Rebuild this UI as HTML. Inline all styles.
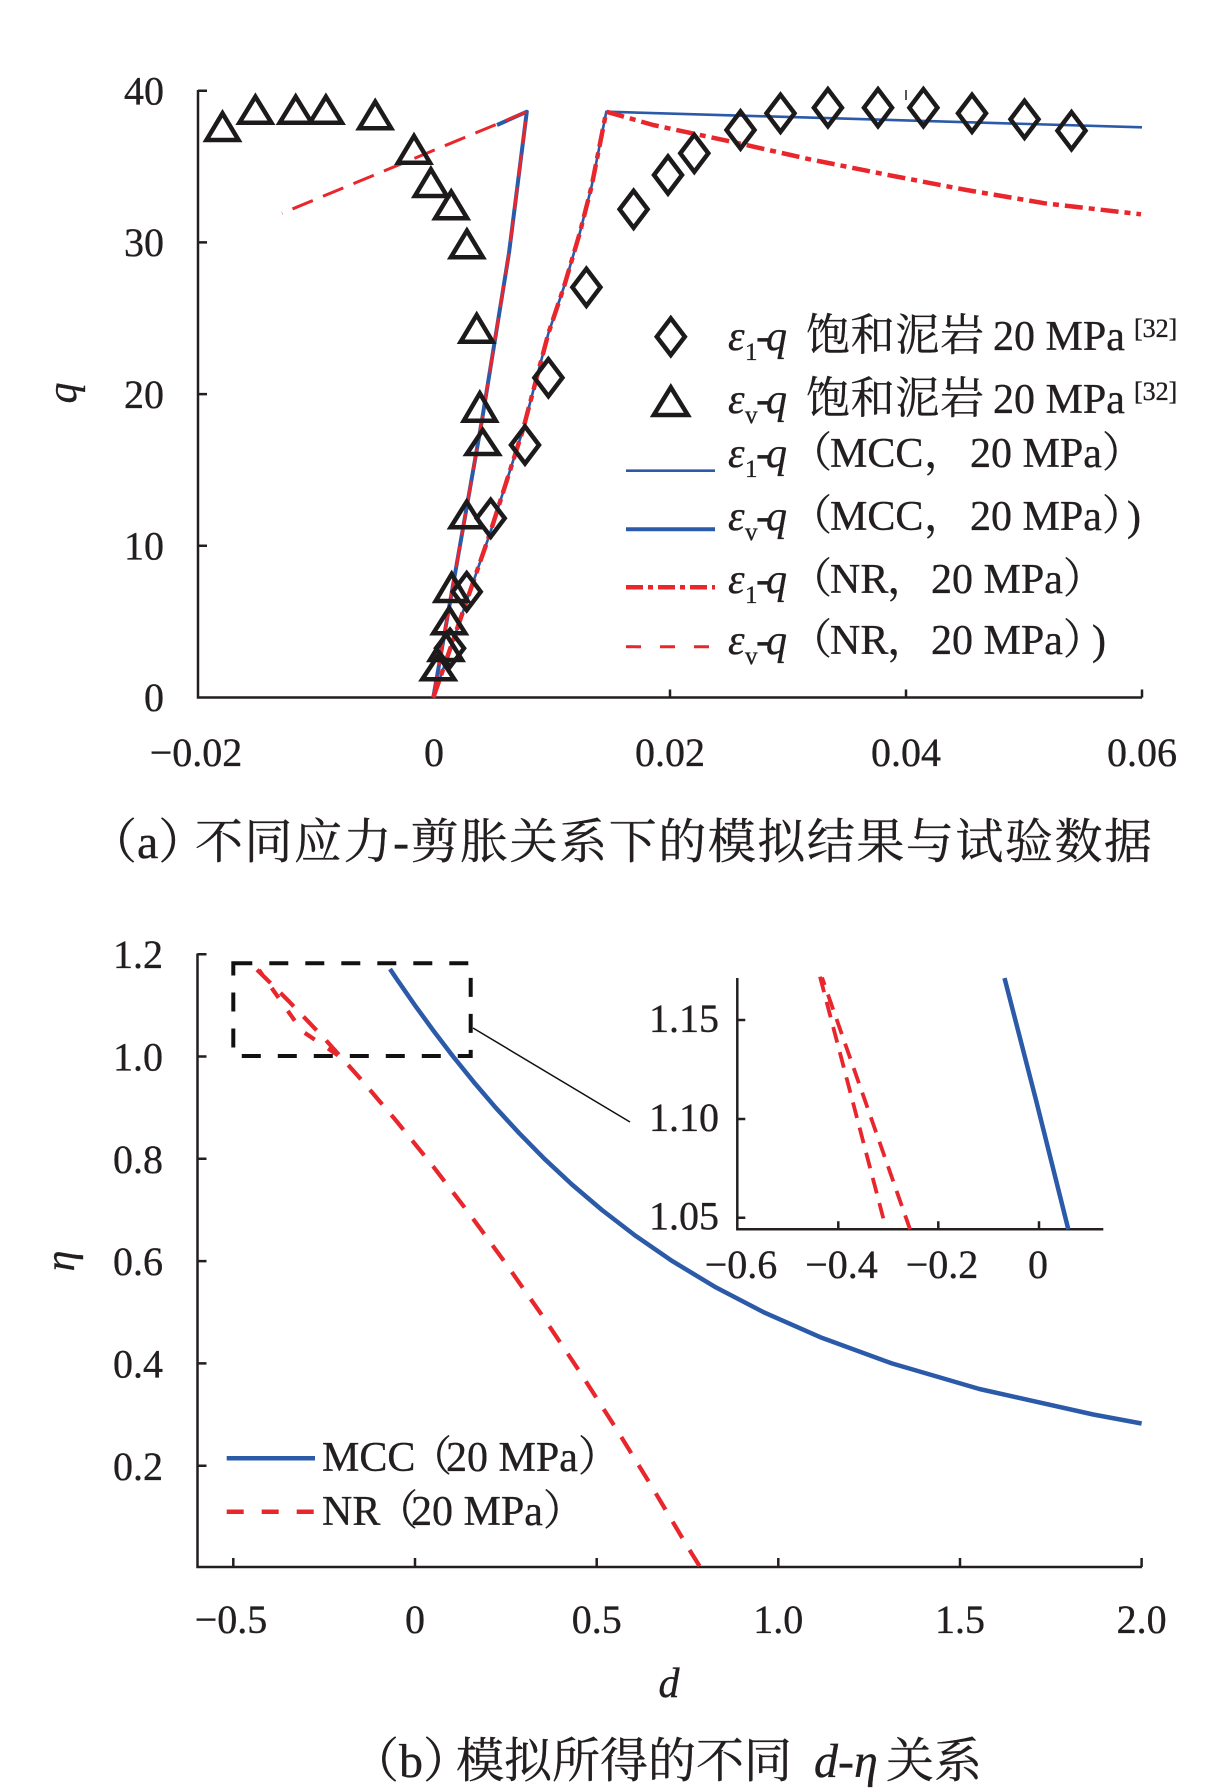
<!DOCTYPE html>
<html><head><meta charset="utf-8">
<style>
html,body{margin:0;padding:0;background:#fff}
svg{display:block}
text{font-family:"Liberation Serif","Noto Serif CJK SC",serif;fill:#231f20;stroke:#231f20;stroke-width:0.35}
.it{font-style:italic}
</style></head>
<body>
<svg width="1228" height="1790" viewBox="0 0 1228 1790" xmlns="http://www.w3.org/2000/svg">
<rect width="1228" height="1790" fill="#fff"/>

<!-- ================= CHART (a) ================= -->
<g stroke="#231f20" stroke-width="2.5" fill="none">
  <path d="M198 90 V697.5 H1142"/>
  <path d="M198 90.7 h9 M198 242.4 h9 M198 394.1 h9 M198 545.8 h9"/>
  <path d="M434 697.5 v-8 M670 697.5 v-8 M906 697.5 v-8 M1142 697.5 v-8"/>
  <path d="M906 90 v10" stroke-width="1.5"/>
</g>
<g font-size="40" text-anchor="end">
  <text x="164" y="104.5">40</text>
  <text x="164" y="256">30</text>
  <text x="164" y="408">20</text>
  <text x="164" y="559.5">10</text>
  <text x="164" y="711">0</text>
</g>
<g font-size="40" text-anchor="middle">
  <text x="196" y="766">−0.02</text>
  <text x="434" y="766">0</text>
  <text x="670" y="766">0.02</text>
  <text x="906" y="766">0.04</text>
  <text x="1142" y="766">0.06</text>
</g>
<text class="it" font-size="42" text-anchor="middle" transform="translate(76,393) rotate(-90)">q</text>

<!-- model lines (a) -->
<g fill="none" stroke-linejoin="round">
  <path d="M433.3 697.7 L490 533.3 L522.9 430 L548.4 333.3 L564 286.7 L579.7 233.3 L591.5 186.7 L606.3 111.7 L1142 127.3" stroke="#2b5aa8" stroke-width="2.6"/>
  <path d="M433.3 697.5 L482 420 L509 253 L526.8 111.7 L497 125" stroke="#2b5aa8" stroke-width="4"/>
  <path d="M433.3 697.7 L490 533.3 L522.9 430 L548.4 333.3 L564 286.7 L579.7 233.3 L591.5 186.7 L606.3 111.7 L653.2 125 L731.5 141.7 L809.8 159.3 L888.2 175 L966.5 190 L1044.8 203.3 L1141 214.3" stroke="#e8262c" stroke-width="4.5" stroke-dasharray="18 6 6 6"/>
  <path d="M433.3 697.5 L482 420 L509 253 L526.8 111.7 L282 213.3" stroke="#e8262c" stroke-width="3" stroke-dasharray="22 11"/>
</g>

<!-- triangles (a) -->
<g fill="none" stroke="#1c1a1b" stroke-width="4.5" stroke-linejoin="miter">
  <path d="M222.5 113.3 L238.5 140 L206.5 140 Z"/>
  <path d="M255.4 96.7 L271.4 122.7 L239.4 122.7 Z"/>
  <path d="M295.7 96.7 L311.7 122.7 L279.7 122.7 Z"/>
  <path d="M325.9 96.7 L341.9 122.7 L309.9 122.7 Z"/>
  <path d="M375.2 101.7 L391.2 128.3 L359.2 128.3 Z"/>
  <path d="M414 136 L430 162.7 L398 162.7 Z"/>
  <path d="M430.9 169.3 L446.9 196 L414.9 196 Z"/>
  <path d="M451.2 191.7 L467.2 218.3 L435.2 218.3 Z"/>
  <path d="M466.9 230.7 L482.9 257.3 L450.9 257.3 Z"/>
  <path d="M476.7 315 L492.7 341.7 L460.7 341.7 Z"/>
  <path d="M479.8 393.3 L495.8 420.7 L463.8 420.7 Z"/>
  <path d="M482.7 430 L498.7 454 L466.7 454 Z"/>
  <path d="M466.7 501.7 L482.7 527.3 L450.7 527.3 Z"/>
  <path d="M451.7 574 L467.7 601 L435.7 601 Z"/>
  <path d="M449.3 608 L465.3 633.3 L433.3 633.3 Z"/>
  <path d="M446 634 L462 660 L430 660 Z"/>
  <path d="M438.3 655 L454.3 679.3 L422.3 679.3 Z"/>
</g>
<!-- diamonds (a) -->
<g fill="none" stroke="#1c1a1b" stroke-width="4.5" stroke-linejoin="miter">
  <path d="M525 426.5 L539 445 L525 463.5 L511 445 Z"/>
  <path d="M490.7 499.8 L504.7 518.3 L490.7 536.8 L476.7 518.3 Z"/>
  <path d="M466.7 573.2 L480.7 591.7 L466.7 610.2 L452.7 591.7 Z"/>
  <path d="M450 629.8 L464 648.3 L450 666.8 L436 648.3 Z"/>
  <path d="M548.4 359.2 L562.4 377.7 L548.4 396.2 L534.4 377.7 Z"/>
  <path d="M586.4 268.8 L600.4 287.3 L586.4 305.8 L572.4 287.3 Z"/>
  <path d="M633.6 190.8 L647.6 209.3 L633.6 227.8 L619.6 209.3 Z"/>
  <path d="M668 156.5 L682 175 L668 193.5 L654 175 Z"/>
  <path d="M694.3 134.8 L708.3 153.3 L694.3 171.8 L680.3 153.3 Z"/>
  <path d="M740.5 111.5 L754.5 130 L740.5 148.5 L726.5 130 Z"/>
  <path d="M780.5 94.8 L794.5 113.3 L780.5 131.8 L766.5 113.3 Z"/>
  <path d="M827.9 89.2 L841.9 107.7 L827.9 126.2 L813.9 107.7 Z"/>
  <path d="M878 89.2 L892 107.7 L878 126.2 L864 107.7 Z"/>
  <path d="M923.4 89.2 L937.4 107.7 L923.4 126.2 L909.4 107.7 Z"/>
  <path d="M972 94.8 L986 113.3 L972 131.8 L958 113.3 Z"/>
  <path d="M1024.5 100.8 L1038.5 119.3 L1024.5 137.8 L1010.5 119.3 Z"/>
  <path d="M1071.5 112.2 L1085.5 130.7 L1071.5 149.2 L1057.5 130.7 Z"/>
</g>

<!-- legend (a) -->
<g fill="none" stroke="#1c1a1b" stroke-width="4.5">
  <path d="M670.8 318.3 L684.8 336.7 L670.8 355 L656.8 336.7 Z"/>
  <path d="M670.8 387.3 L687.8 415 L653.8 415 Z"/>
</g>
<path d="M626 470.7 H715" stroke="#2b5aa8" stroke-width="2.6"/>
<path d="M626 529.3 H715" stroke="#2b5aa8" stroke-width="4"/>
<path d="M626 587.3 H715" stroke="#e8262c" stroke-width="4.5" stroke-dasharray="17 5 5 5"/>
<path d="M626 646.7 H715" stroke="#e8262c" stroke-width="3" stroke-dasharray="15 19"/>

<g font-size="42">
  <text y="350"><tspan x="728" class="it">ε</tspan><tspan x="745" font-size="25" dy="10">1</tspan><tspan x="756" dy="-10">-</tspan><tspan x="766" class="it">q</tspan></text>
  <text x="806" y="350" font-size="44" textLength="178" lengthAdjust="spacing">饱和泥岩</text>
  <text x="993" y="350">20 MPa</text>
  <text x="1134" y="337" font-size="26">[32]</text>
  <text y="413"><tspan x="728" class="it">ε</tspan><tspan x="745" font-size="25" dy="10">v</tspan><tspan x="756" dy="-10">-</tspan><tspan x="766" class="it">q</tspan></text>
  <text x="806" y="413" font-size="44" textLength="178" lengthAdjust="spacing">饱和泥岩</text>
  <text x="993" y="413">20 MPa</text>
  <text x="1134" y="400" font-size="26">[32]</text>
  <text y="467"><tspan x="728" class="it">ε</tspan><tspan x="745" font-size="25" dy="10">1</tspan><tspan x="756" dy="-10">-</tspan><tspan x="766" class="it">q</tspan></text>
  <text x="790" y="467">（</text><text x="830" y="467">MCC</text><text x="924" y="467">，</text>
  <text x="970" y="467">20 MPa）</text>
  <text y="530"><tspan x="728" class="it">ε</tspan><tspan x="745" font-size="25" dy="10">v</tspan><tspan x="756" dy="-10">-</tspan><tspan x="766" class="it">q</tspan></text>
  <text x="790" y="530">（</text><text x="830" y="530">MCC</text><text x="924" y="530">，</text>
  <text x="970" y="530">20 MPa）</text><text x="1127" y="530">)</text>
  <text y="593"><tspan x="728" class="it">ε</tspan><tspan x="745" font-size="25" dy="10">1</tspan><tspan x="756" dy="-10">-</tspan><tspan x="766" class="it">q</tspan></text>
  <text x="790" y="593">（</text><text x="830" y="593">NR</text><text x="887" y="593">，</text>
  <text x="931" y="593">20 MPa）</text>
  <text y="654"><tspan x="728" class="it">ε</tspan><tspan x="745" font-size="25" dy="10">v</tspan><tspan x="756" dy="-10">-</tspan><tspan x="766" class="it">q</tspan></text>
  <text x="790" y="654">（</text><text x="830" y="654">NR</text><text x="887" y="654">，</text>
  <text x="931" y="654">20 MPa）</text><text x="1092" y="654">)</text>
</g>

<!-- caption (a) -->
<text x="89" y="858" font-size="48">（a）</text>
<text x="195" y="858" font-size="48" textLength="957" lengthAdjust="spacing">不同应力-剪胀关系下的模拟结果与试验数据</text>

<!-- ================= CHART (b) ================= -->
<g stroke="#231f20" stroke-width="2.5" fill="none">
  <path d="M197.5 953.5 V1567 H1142"/>
  <path d="M197.5 954.2 h9 M197.5 1056.5 h9 M197.5 1158.8 h9 M197.5 1261.1 h9 M197.5 1363.4 h9 M197.5 1465.7 h9"/>
  <path d="M233.3 1567 v-9 M415 1567 v-9 M596.7 1567 v-9 M778.3 1567 v-9 M960 1567 v-9 M1141.6 1567 v-9"/>
</g>
<g font-size="40" text-anchor="end">
  <text x="163" y="968">1.2</text>
  <text x="163" y="1070.5">1.0</text>
  <text x="163" y="1173">0.8</text>
  <text x="163" y="1275">0.6</text>
  <text x="163" y="1377.5">0.4</text>
  <text x="163" y="1480">0.2</text>
</g>
<g font-size="40" text-anchor="middle">
  <text x="231" y="1633">−0.5</text>
  <text x="415" y="1633">0</text>
  <text x="596.7" y="1633">0.5</text>
  <text x="778.3" y="1633">1.0</text>
  <text x="960" y="1633">1.5</text>
  <text x="1141.6" y="1633">2.0</text>
</g>
<text class="it" font-size="42" text-anchor="middle" x="669" y="1697">d</text>
<text class="it" font-size="42" text-anchor="middle" transform="translate(74,1261) rotate(-90)">η</text>

<rect x="233.3" y="963.3" width="237.4" height="92.7" fill="none" stroke="#111" stroke-width="4" stroke-dasharray="19 17"/>
<path d="M473 1028 L630 1122" stroke="#111" stroke-width="1.5" fill="none"/>

<g fill="none" stroke-linejoin="round">
  <path d="M390 969 L397.2 979.8 L415 1005.4 L433.6 1030.9 L453.1 1056.5 L473.8 1082.1 L495.7 1107.7 L519.2 1133.2 L544.4 1158.8 L571.8 1184.4 L601.8 1209.9 L635.1 1235.5 L672.3 1261.1 L714.7 1286.7 L763.8 1312.3 L821.7 1337.8 L891.8 1363.4 L979.4 1389 L1093.2 1414.5 L1141.6 1423.5" stroke="#2b5aa8" stroke-width="4.5"/>
  <path d="M257 969.7 L287.8 1000.2 L324.2 1038.3 L360.5 1078.8 L396.8 1121.5 L433.2 1166.5 L469.5 1213.9 L505.8 1263.5 L542.2 1315.5 L578.5 1369.8 L614.8 1426.5 L651.1 1485.4 L687.5 1546.7 L699.5 1566" stroke="#e8262c" stroke-width="4.2" stroke-dasharray="19 14"/>
  <path d="M259 970 L302 1031 L342 1058" stroke="#e8262c" stroke-width="4.2" stroke-dasharray="12 16" stroke-dashoffset="6"/>
</g>

<path d="M226.7 1458.3 H315" stroke="#2b5aa8" stroke-width="4.5"/>
<path d="M226.7 1511.7 H315" stroke="#e8262c" stroke-width="4.5" stroke-dasharray="17 18"/>
<g font-size="42">
  <text x="322" y="1471">MCC</text><text x="410" y="1471">（</text><text x="446" y="1471">20 MPa）</text>
  <text x="322" y="1525">NR</text><text x="376" y="1525">（</text><text x="411" y="1525">20 MPa）</text>
</g>

<!-- inset -->
<rect x="738" y="976" width="366" height="252" fill="#fff"/>
<g stroke="#231f20" stroke-width="2.5" fill="none">
  <path d="M737.3 978 V1229.3 H1103.3"/>
  <path d="M737.3 1020 h8 M737.3 1119 h8 M737.3 1217.7 h8"/>
  <path d="M838.3 1229.3 v-8 M938.3 1229.3 v-8 M1039 1229.3 v-8"/>
</g>
<g font-size="40" text-anchor="end">
  <text x="719" y="1032">1.15</text>
  <text x="719" y="1131">1.10</text>
  <text x="719" y="1229.5">1.05</text>
</g>
<g font-size="40" text-anchor="middle">
  <text x="741" y="1278">−0.6</text>
  <text x="841.5" y="1278">−0.4</text>
  <text x="942" y="1278">−0.2</text>
  <text x="1038" y="1278">0</text>
</g>
<g fill="none">
  <path d="M820 976.7 L883.3 1218.3" stroke="#e8262c" stroke-width="3.8" stroke-dasharray="16 10"/>
  <path d="M822 977.5 L910 1229.3" stroke="#e8262c" stroke-width="3.8" stroke-dasharray="16 10" stroke-dashoffset="8"/>
  <path d="M1004.5 978 L1036 1100 L1068.3 1229.3" stroke="#2b5aa8" stroke-width="4.5"/>
</g>

<g font-size="48">
  <text x="351" y="1777">（b）</text>
  <text x="456" y="1777">模拟所得的不同</text>
  <text x="814" y="1777" class="it">d-η</text>
  <text x="886" y="1777">关系</text>
</g>
</svg>
</body></html>
